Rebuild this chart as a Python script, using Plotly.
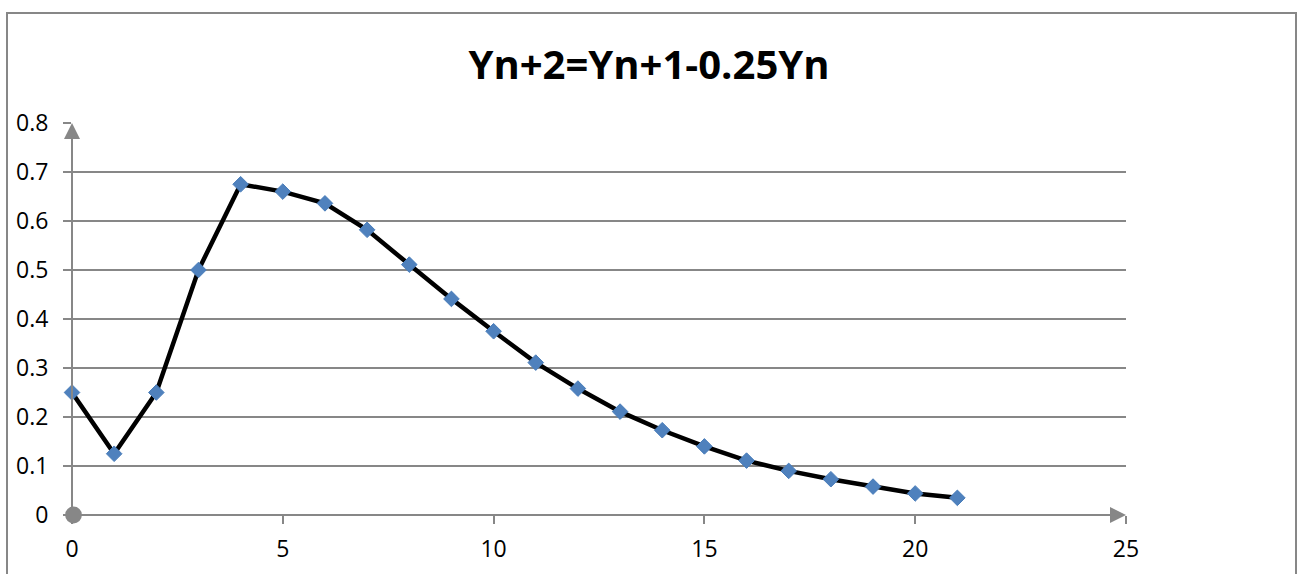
import plotly.graph_objects as go

# Data
n_values = list(range(22))
y_values = [0.25, 0.125, 0.25, 0.5, 0.675, 0.66, 0.636, 0.582, 0.511, 0.441, 0.375,
            0.311, 0.258, 0.211, 0.173, 0.14, 0.111, 0.09, 0.073, 0.058, 0.044, 0.035]
x_ticks = [0, 5, 10, 15, 20, 25]
y_ticks = [0, 0.1, 0.2, 0.3, 0.4, 0.5, 0.6, 0.7, 0.8]
title_text = "Yn+2=Yn+1-0.25Yn"

X_MAX = 25
Y_MAX = 0.8
GRAY = "#878787"

fig = go.Figure()
fig.add_trace(go.Scatter(
    x=n_values, y=y_values, mode="lines+markers",
    line=dict(color="black", width=4.5),
    marker=dict(symbol="diamond", size=12, color="#4F81BD",
                line=dict(color="#4A7EBB", width=1)),
    showlegend=False, cliponaxis=False,
))

W, H = 1298, 574
L, R, T, B = 72, 172, 123, 59
pw = W - L - R
ph = H - T - B

def px_to_paper_x(px):
    return (px - L) / pw

def px_to_paper_y(py):
    return (H - B - py) / ph

fig.update_layout(
    width=W, height=H, autosize=False,
    margin=dict(l=L, r=R, t=T, b=B, autoexpand=False),
    paper_bgcolor="white", plot_bgcolor="white",
    font=dict(family="Open Sans", color="black", size=23),
    title=dict(text=title_text, x=0.5, xref="container", xanchor="center",
               y=1 - 65 / H, yref="container", yanchor="middle",
               font=dict(family="Open Sans", size=40, color="black", weight="bold")),
    xaxis=dict(range=[0, X_MAX], tickvals=x_ticks, showgrid=False, zeroline=False,
               showline=False, ticks="outside", ticklen=8, tickwidth=2, tickcolor=GRAY,
               ticklabelstandoff=5, tickfont=dict(size=23), automargin=False),
    yaxis=dict(range=[0, Y_MAX], tickvals=y_ticks, showgrid=True, gridcolor=GRAY,
               gridwidth=2, zeroline=False, showline=False, ticks="outside",
               ticklen=8, tickwidth=2, tickcolor=GRAY, ticklabelstandoff=10,
               tickfont=dict(size=23), automargin=False),
    shapes=[dict(type="rect", xref="paper", yref="paper",
                 x0=px_to_paper_x(7), x1=px_to_paper_x(1296),
                 y0=px_to_paper_y(590), y1=px_to_paper_y(13),
                 line=dict(color=GRAY, width=2), fillcolor="rgba(0,0,0,0)", layer="below")],
    annotations=[
        dict(x=X_MAX, y=0, ax=0, ay=0, xref="x", yref="y", axref="x", ayref="y",
             text="", showarrow=True, arrowhead=2, arrowsize=1.6, arrowwidth=2,
             arrowcolor=GRAY, arrowside="end+start", startarrowhead=6, startarrowsize=2.1),
        dict(x=0, y=Y_MAX, ax=0, ay=0, xref="x", yref="y", axref="x", ayref="y",
             text="", showarrow=True, arrowhead=2, arrowsize=1.6, arrowwidth=2,
             arrowcolor=GRAY),
    ],
)

fig.write_html("out.html")
